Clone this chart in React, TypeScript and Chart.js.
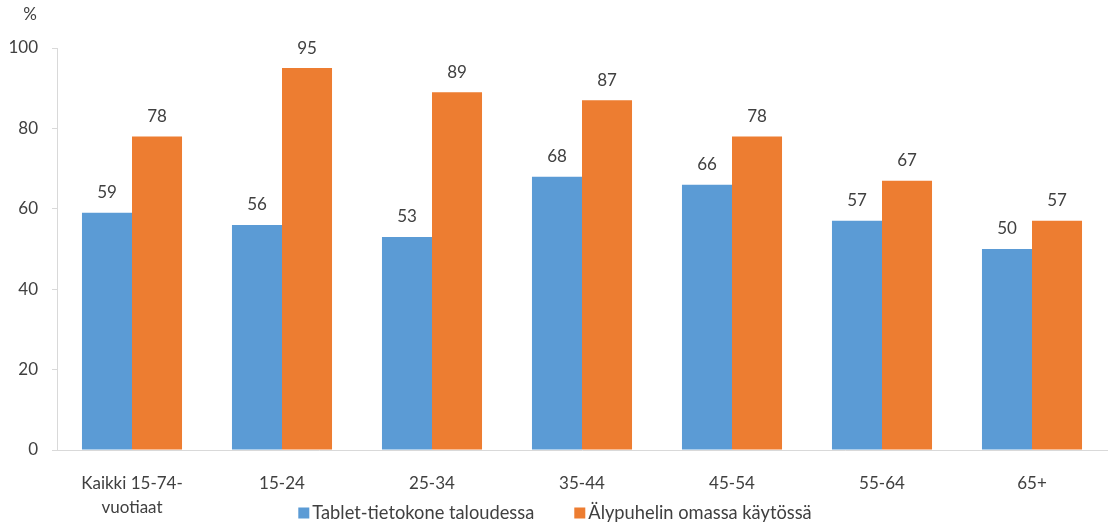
import React, { useEffect, useRef } from "react";
import { Chart, registerables } from "chart.js";

Chart.register(...registerables);

const categories: (string | string[])[] = [
  ["Kaikki 15-74-", "vuotiaat"],
  "15-24",
  "25-34",
  "35-44",
  "45-54",
  "55-64",
  "65+",
];
const tabletValues = [59, 56, 53, 68, 66, 57, 50];
const phoneValues = [78, 95, 89, 87, 78, 67, 57];
const seriesNames = ["Tablet-tietokone taloudessa", "Älypuhelin omassa käytössä"];
const seriesColors = ["#5B9BD5", "#ED7D31"];
const yTicks = [0, 20, 40, 60, 80, 100];

const FONT = "Lato, 'Noto Sans', sans-serif";
const TEXT = "#404040";

// Value labels above each bar
const valueLabels = {
  id: "valueLabels",
  afterDatasetsDraw(chart: any) {
    const ctx = chart.ctx;
    ctx.save();
    ctx.font = `17px ${FONT}`;
    ctx.fillStyle = TEXT;
    ctx.textAlign = "center";
    ctx.textBaseline = "middle";
    chart.data.datasets.forEach((ds: any, i: number) => {
      const meta = chart.getDatasetMeta(i);
      meta.data.forEach((bar: any, j: number) => {
        ctx.fillText(String(ds.data[j]), bar.x, bar.y - 20);
      });
    });
    ctx.restore();
  },
};

// Unit caption above the value axis and legend row under the category labels
const extras = {
  id: "extras",
  afterDraw(chart: any) {
    const ctx = chart.ctx;
    const area = chart.chartArea;
    ctx.save();
    ctx.font = `17px ${FONT}`;
    ctx.fillStyle = TEXT;
    ctx.textAlign = "center";
    ctx.textBaseline = "middle";
    ctx.fillText("%", area.left - 27, area.top - 33);

    ctx.font = `18.3px ${FONT}`;
    const box = 11;
    const gapText = 3;
    const gapItem = 40;
    const items = chart.data.datasets.map((ds: any) => ({
      text: ds.label,
      color: ds.backgroundColor,
      w: ctx.measureText(ds.label).width,
    }));
    const total = items.reduce((s: number, it: any) => s + box + gapText + it.w, 0) + gapItem * (items.length - 1);
    let x = chart.width / 2 - total / 2;
    const y = chart.height - 10;
    ctx.textAlign = "left";
    items.forEach((it: any) => {
      ctx.fillStyle = it.color;
      ctx.fillRect(x, y - box / 2, box, box);
      x += box + gapText;
      ctx.fillStyle = TEXT;
      ctx.fillText(it.text, x, y);
      x += it.w + gapItem;
    });
    ctx.restore();
  },
};

export default function App() {
  const ref = useRef<HTMLCanvasElement | null>(null);

  useEffect(() => {
    if (!ref.current) return;
    const chart = new Chart(ref.current, {
      type: "bar",
      data: {
        labels: categories,
        datasets: [
          { label: seriesNames[0], data: tabletValues, backgroundColor: seriesColors[0] },
          { label: seriesNames[1], data: phoneValues, backgroundColor: seriesColors[1] },
        ],
      },
      options: {
        responsive: false,
        animation: false,
        layout: { padding: { top: 48, right: 3, left: 0, bottom: 0 } },
        datasets: {
          bar: { categoryPercentage: 0.667, barPercentage: 1 },
        },
        plugins: {
          legend: { display: false },
          tooltip: { enabled: false },
        },
        scales: {
          x: {
            grid: { display: false },
            border: { display: true, color: "#D9D9D9", width: 1 },
            ticks: {
              color: TEXT,
              padding: 14,
              maxRotation: 0,
              autoSkip: false,
              font: { family: FONT, size: 17, lineHeight: 1.41 },
            },
            afterFit(scale: any) {
              scale.height = 73;
            },
          },
          y: {
            min: 0,
            max: 100,
            afterBuildTicks(scale: any) {
              scale.ticks = yTicks.map((v) => ({ value: v }));
            },
            grid: {
              drawOnChartArea: false,
              drawTicks: true,
              tickLength: 5,
              color: "#D9D9D9",
            },
            border: { display: true, color: "#D9D9D9", width: 1 },
            ticks: {
              color: TEXT,
              padding: 14,
              font: { family: FONT, size: 17 },
            },
            afterFit(scale: any) {
              scale.width = 57;
            },
          },
        },
      },
      plugins: [valueLabels, extras],
    });
    return () => chart.destroy();
  }, []);

  return (
    <div style={{ position: "fixed", left: 0, top: 0, width: 1110, height: 523, background: "#fff" }}>
      <canvas ref={ref} width={1110} height={523} style={{ display: "block" }} />
    </div>
  );
}
